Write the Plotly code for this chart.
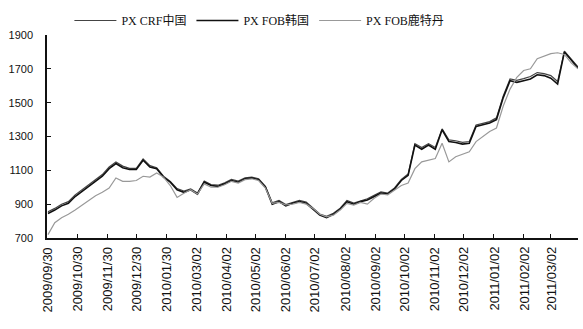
import pandas as pd
import plotly.graph_objects as go

start = pd.Timestamp("2009-09-30")
# weekly observation dates (starting 2009/09/30)
dates = pd.date_range("2009-09-30", periods=79, freq="7D")

fob_korea = [845, 865, 890, 905, 945, 975, 1010, 1040, 1065, 1110,
             1140, 1115, 1105, 1105, 1160, 1120, 1110, 1060, 1030, 985,
             970, 985, 960, 1030, 1010, 1005, 1020, 1040, 1030, 1050,
             1055, 1045, 1000, 900, 915, 890, 905, 915, 905, 870,
             835, 820, 840, 870, 915, 900, 915, 925, 945, 965,
             960, 990, 1040, 1070, 1250, 1225, 1250, 1225, 1340, 1270,
             1265, 1255, 1260, 1360, 1370, 1380, 1400, 1530, 1630, 1620,
             1630, 1640, 1665, 1660, 1645, 1610, 1800, 1750, 1705]

crf_china = [855, 875, 900, 915, 955, 985, 1020, 1050, 1075, 1120,
             1150, 1125, 1112, 1112, 1168, 1128, 1115, 1065, 1035, 992,
             978, 990, 966, 1036, 1016, 1012, 1026, 1046, 1036, 1056,
             1060, 1050, 1006, 908, 922, 898, 912, 922, 912, 878,
             842, 828, 846, 876, 922, 906, 920, 932, 952, 972,
             966, 996, 1046, 1078, 1258, 1235, 1258, 1235, 1345, 1280,
             1275, 1265, 1270, 1368, 1378, 1388, 1410, 1540, 1640, 1632,
             1642, 1655, 1678, 1672, 1660, 1625, 1805, 1758, 1712]

fob_rotterdam = [720, 790, 820, 840, 865, 895, 920, 950, 970, 995,
                 1055, 1035, 1035, 1040, 1065, 1060, 1085, 1060, 1010, 940,
                 965, 985, 960, 1020, 1000, 1000, 1015, 1035, 1025, 1045,
                 1050, 1040, 995, 905, 910, 895, 900, 910, 900, 875,
                 840, 825, 835, 865, 905, 895, 910, 900, 935, 960,
                 955, 985, 1010, 1025, 1110, 1150, 1160, 1170, 1260, 1150,
                 1180, 1195, 1210, 1270, 1300, 1330, 1350, 1480, 1580, 1650,
                 1690, 1700, 1760, 1775, 1790, 1795, 1785, 1735, 1700]

tick_dates = ["2009-09-30", "2009-10-30", "2009-11-30", "2009-12-30", "2010-01-30",
              "2010-03-02", "2010-04-02", "2010-05-02", "2010-06-02", "2010-07-02",
              "2010-08-02", "2010-09-02", "2010-10-02", "2010-11-02", "2010-12-02",
              "2011-01-02", "2011-02-02", "2011-03-02"]
tick_text = [d.replace("-", "/") for d in tick_dates]
y_ticks = [700, 900, 1100, 1300, 1500, 1700, 1900]

x_days = [(d - start).days for d in dates]
tick_days = [(pd.Timestamp(d) - start).days for d in tick_dates]

fig = go.Figure()
fig.add_trace(go.Scatter(x=x_days, y=crf_china, mode="lines", name="PX CRF中国",
                         line=dict(color="#444444", width=1.2)))
fig.add_trace(go.Scatter(x=x_days, y=fob_korea, mode="lines", name="PX FOB韩国",
                         line=dict(color="#111111", width=1.6)))
fig.add_trace(go.Scatter(x=x_days, y=fob_rotterdam, mode="lines", name="PX FOB鹿特丹",
                         line=dict(color="#999999", width=1.2)))

# x tick labels as rotated text, one per tick
for tv, tt in zip(tick_days, tick_text):
    fig.add_annotation(x=tv, xref="x", y=0, yref="paper", text=tt, textangle=-90,
                       showarrow=False, xanchor="center", yanchor="top", yshift=-7,
                       font=dict(family="Liberation Sans, Arial", size=13, color="#111111"))

fig.update_layout(
    width=583, height=329,
    margin=dict(l=47, r=5, t=35, b=91),
    paper_bgcolor="white", plot_bgcolor="white",
    font=dict(family="Liberation Sans, Arial, Noto Sans CJK SC", size=11, color="#111111"),
    legend=dict(orientation="h", x=0.40, xanchor="center", y=1.0, yanchor="bottom",
                font=dict(family="Liberation Serif, Noto Sans CJK SC", size=12, color="#111111"),
                itemwidth=42, bgcolor="rgba(0,0,0,0)"),
    showlegend=True,
)
fig.update_xaxes(
    range=[-1, 546],
    tickmode="array", tickvals=tick_days, showticklabels=False,
    showgrid=False, zeroline=False, showline=True, linecolor="#111111", linewidth=1.5,
    ticks="inside", ticklen=4, tickcolor="#111111",
)
fig.update_yaxes(
    range=[700, 1900], tickvals=y_ticks,
    showgrid=False, zeroline=False, showline=True, linecolor="#111111", linewidth=1.5,
    ticks="inside", ticklen=4, tickcolor="#111111", ticklabelstandoff=10,
    tickfont=dict(size=11, color="#111111"),
)

fig.write_html("out.html")
